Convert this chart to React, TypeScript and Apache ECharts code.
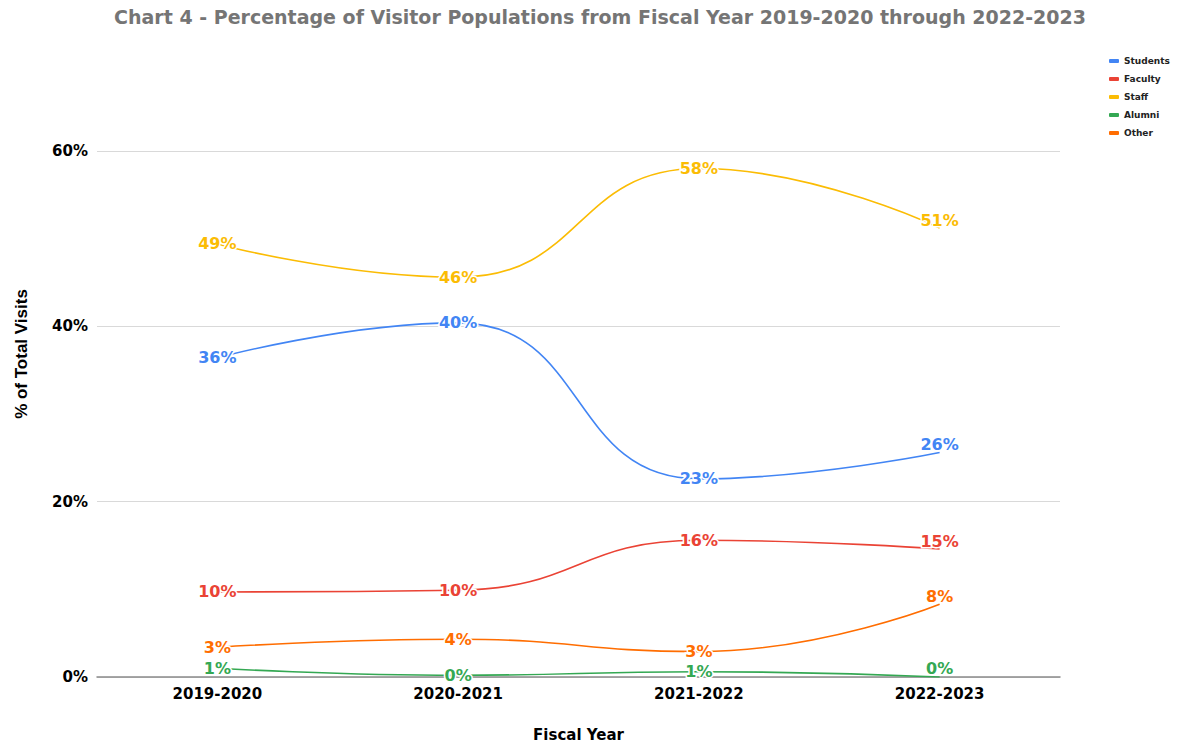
import React, { useEffect, useRef } from "react";
import * as echarts from "echarts";

const categories = ["2019-2020", "2020-2021", "2021-2022", "2022-2023"];
const seriesNames = ["Students", "Faculty", "Staff", "Alumni", "Other"];
const students = [36.4, 40.4, 22.6, 25.6];
const faculty = [9.7, 9.9, 15.6, 14.6];
const staff = [49.4, 45.6, 58.0, 51.2];
const alumni = [1.0, 0.2, 0.6, 0.0];
const other = [3.4, 4.3, 2.9, 8.3];
const colors = ["#4285F4", "#EA4335", "#FBBC04", "#34A853", "#FF6D01"];
const yTicks = [0, 20, 40, 60];

const titleText =
  "Chart 4 - Percentage of Visitor Populations from Fiscal Year 2019-2020 through 2022-2023";
const xName = "Fiscal Year";
const yName = "% of Total Visits";

const BOLD = "DejaVu Sans";

export default function App() {
  const ref = useRef<HTMLDivElement>(null);
  useEffect(() => {
    if (!ref.current) return;
    const chart = echarts.init(ref.current, null, { renderer: "svg" });
    const all = [students, faculty, staff, alumni, other];
    const last = categories.length - 1;
    const series = all.map((vals, si) => ({
      name: seriesNames[si],
      type: "line",
      smooth: true,
      symbol: "circle",
      symbolSize: 0.01,
      showSymbol: true,
      lineStyle: { width: 1.6, color: colors[si] },
      itemStyle: { color: colors[si] },
      emphasis: { disabled: true },
      label: {
        show: true,
        position: "inside",
        formatter: (p: any) => Math.round(p.value) + "%",
        fontFamily: BOLD,
        fontWeight: "bold",
        fontSize: 16,
        color: colors[si],
        textBorderColor: "#ffffff",
        textBorderWidth: 3,
      },
      data: vals.map((v, i) =>
        i === last
          ? { value: v, label: { position: "top", distance: 0 } }
          : v
      ),
    }));
    chart.setOption({
      animation: false,
      color: colors,
      graphic: [
        {
          type: "text",
          x: 600,
          y: 17,
          style: {
            text: titleText,
            fontFamily: BOLD,
            fontWeight: "bold",
            fontSize: 19,
            fill: "#757575",
            textAlign: "center",
            textVerticalAlign: "middle",
          },
        },
        {
          type: "text",
          x: 21,
          y: 354,
          rotation: Math.PI / 2,
          style: {
            text: yName,
            fontFamily: "Liberation Sans",
            fontWeight: "bold",
            fontSize: 17,
            fill: "#000000",
            textAlign: "center",
            textVerticalAlign: "middle",
          },
        },
      ],
      legend: {
        orient: "vertical",
        left: 1104,
        top: 50,
        icon: "roundRect",
        itemWidth: 10,
        itemHeight: 4,
        itemGap: 6,
        data: seriesNames,
        selectedMode: false,
        textStyle: {
          fontFamily: BOLD,
          fontWeight: "bold",
          fontSize: 9,
          lineHeight: 12,
          color: "#222222",
        },
      },
      grid: { left: 97, right: 117, top: 151, bottom: 69, containLabel: false },
      xAxis: {
        type: "category",
        data: categories,
        boundaryGap: true,
        name: xName,
        nameLocation: "middle",
        nameGap: 50,
        nameTextStyle: {
          fontFamily: BOLD,
          fontWeight: "bold",
          fontSize: 15,
          color: "#000000",
        },
        axisLine: { lineStyle: { color: "#8a8a8a", width: 1.5 } },
        axisTick: { show: false },
        axisLabel: {
          fontFamily: BOLD,
          fontWeight: "bold",
          fontSize: 15,
          color: "#000000",
          margin: 9,
        },
      },
      yAxis: {
        type: "value",
        min: yTicks[0],
        max: yTicks[yTicks.length - 1],
        interval: 20,
        axisLine: { show: false },
        axisTick: { show: false },
        splitLine: { lineStyle: { color: "#d9d9d9", width: 1 } },
        axisLabel: {
          formatter: "{value}%",
          fontFamily: BOLD,
          fontWeight: "bold",
          fontSize: 15,
          color: "#000000",
          margin: 9,
        },
      },
      series,
    });
    return () => chart.dispose();
  }, []);
  return (
    <div
      ref={ref}
      style={{ position: "fixed", left: 0, top: 0, width: 1177, height: 747, background: "#ffffff" }}
    />
  );
}
